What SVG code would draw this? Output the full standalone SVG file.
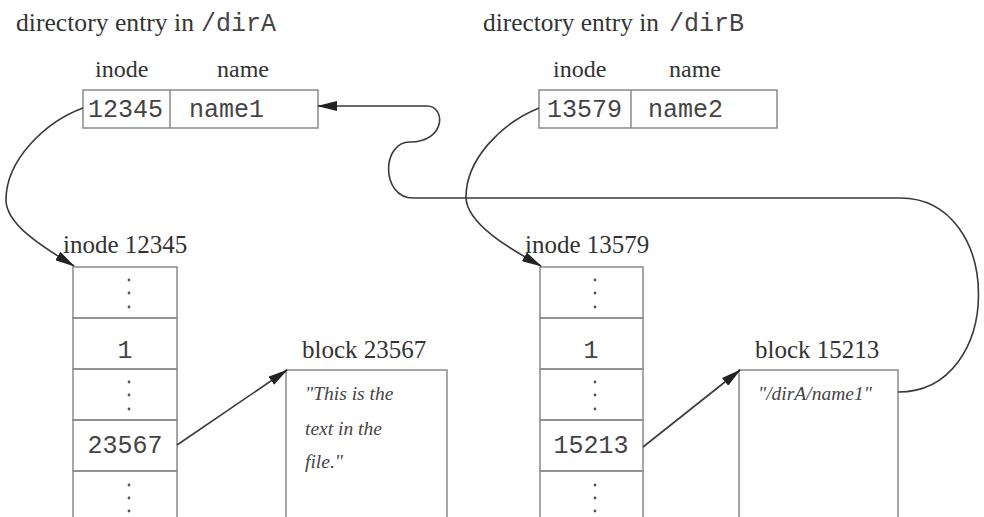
<svg xmlns="http://www.w3.org/2000/svg" width="984" height="517" viewBox="0 0 984 517">
<style>
.bg{fill:#ffffff}
.box{fill:none;stroke:#8a8a8a;stroke-width:1.5}
.con{fill:none;stroke:#3a3a3a;stroke-width:1.6}
.serif{font-family:"Liberation Serif","Times New Roman",serif;fill:#333}
.lab{font-size:25px}
.hdr{font-size:24px}
.mono{font-family:"Liberation Mono","Courier New",monospace;font-size:25px;fill:#444}
.it{font-family:"Liberation Serif","Times New Roman",serif;font-style:italic;font-size:19.5px;fill:#444}
.dot{fill:#555}
</style>
<defs>
<marker id="ah" viewBox="0 0 20 10" refX="19" refY="5" markerWidth="20" markerHeight="10" markerUnits="userSpaceOnUse" orient="auto">
<path d="M0,0 L20,5 L0,10 z" fill="#222"/>
</marker>
</defs>
<rect class="bg" x="0" y="0" width="984" height="517"/>

<g id="dirA">
<text class="serif lab" x="16" y="31" textLength="178" lengthAdjust="spacingAndGlyphs">directory entry in</text>
<text class="mono" x="201" y="31">/dirA</text>
<text class="serif hdr" x="95" y="77">inode</text>
<text class="serif hdr" x="243" y="77" text-anchor="middle">name</text>
<rect class="box" x="83" y="90" width="235" height="38"/>
<line class="box" x1="170" y1="90" x2="170" y2="128"/>
<text class="mono" x="88" y="117">12345</text>
<text class="mono" x="189" y="117">name1</text>
</g>

<g id="dirB">
<text class="serif lab" x="483" y="31" textLength="176" lengthAdjust="spacingAndGlyphs">directory entry in</text>
<text class="mono" x="669" y="31">/dirB</text>
<text class="serif hdr" x="553" y="77">inode</text>
<text class="serif hdr" x="695" y="77" text-anchor="middle">name</text>
<rect class="box" x="539" y="90" width="238" height="38"/>
<line class="box" x1="631" y1="90" x2="631" y2="128"/>
<text class="mono" x="547" y="117">13579</text>
<text class="mono" x="648" y="117">name2</text>
</g>

<g id="inodeA">
<text class="serif lab" x="63" y="253">inode 12345</text>
<rect class="box" x="73" y="267" width="104" height="51"/>
<rect class="box" x="73" y="318" width="104" height="51"/>
<rect class="box" x="73" y="369" width="104" height="51"/>
<rect class="box" x="73" y="420" width="104" height="51"/>
<rect class="box" x="73" y="471" width="104" height="60"/>
<circle class="dot" cx="129" cy="280" r="1.4"/><circle class="dot" cx="129" cy="293" r="1.4"/><circle class="dot" cx="129" cy="307" r="1.4"/>
<text class="mono" x="125" y="358" text-anchor="middle">1</text>
<circle class="dot" cx="129" cy="382" r="1.4"/><circle class="dot" cx="129" cy="395" r="1.4"/><circle class="dot" cx="129" cy="409" r="1.4"/>
<text class="mono" x="125" y="453" text-anchor="middle">23567</text>
<circle class="dot" cx="129" cy="485" r="1.4"/><circle class="dot" cx="129" cy="498" r="1.4"/><circle class="dot" cx="129" cy="511" r="1.4"/>
</g>

<g id="inodeB">
<text class="serif lab" x="525" y="253">inode 13579</text>
<rect class="box" x="540" y="267" width="103" height="51"/>
<rect class="box" x="540" y="318" width="103" height="51"/>
<rect class="box" x="540" y="369" width="103" height="51"/>
<rect class="box" x="540" y="420" width="103" height="51"/>
<rect class="box" x="540" y="471" width="103" height="60"/>
<circle class="dot" cx="595" cy="280" r="1.4"/><circle class="dot" cx="595" cy="293" r="1.4"/><circle class="dot" cx="595" cy="307" r="1.4"/>
<text class="mono" x="591" y="358" text-anchor="middle">1</text>
<circle class="dot" cx="595" cy="382" r="1.4"/><circle class="dot" cx="595" cy="395" r="1.4"/><circle class="dot" cx="595" cy="409" r="1.4"/>
<text class="mono" x="591" y="453" text-anchor="middle">15213</text>
<circle class="dot" cx="595" cy="485" r="1.4"/><circle class="dot" cx="595" cy="498" r="1.4"/><circle class="dot" cx="595" cy="511" r="1.4"/>
</g>

<g id="blockA">
<text class="serif lab" x="302" y="358">block 23567</text>
<rect class="box" x="286" y="370" width="161" height="160"/>
<text class="it" x="305" y="400">"This is the</text>
<text class="it" x="305" y="435">text in the</text>
<text class="it" x="305" y="468">file."</text>
</g>

<g id="blockB">
<text class="serif lab" x="755" y="358">block 15213</text>
<rect class="box" x="739" y="370" width="159" height="160"/>
<text class="it" x="758" y="400">"/dirA/name1"</text>
</g>

<g id="connectors">
<path class="con" marker-end="url(#ah)" d="M83,108 C45,122 6,160 6,200 C6,226 48,250 74,266"/>
<path class="con" marker-end="url(#ah)" d="M539,108 C500,124 466,160 466,197 C466,224 512,250 541,266"/>
<path class="con" marker-end="url(#ah)" d="M177,445 L287,370"/>
<path class="con" marker-end="url(#ah)" d="M643,447 L740,370"/>
<path class="con" marker-end="url(#ah)" d="M898,392 C1005,392 1005,198 900,198 L413,198 C381,198 381,142 410,142 C446,142 446,106 427,106 L318,106"/>
</g>
</svg>
